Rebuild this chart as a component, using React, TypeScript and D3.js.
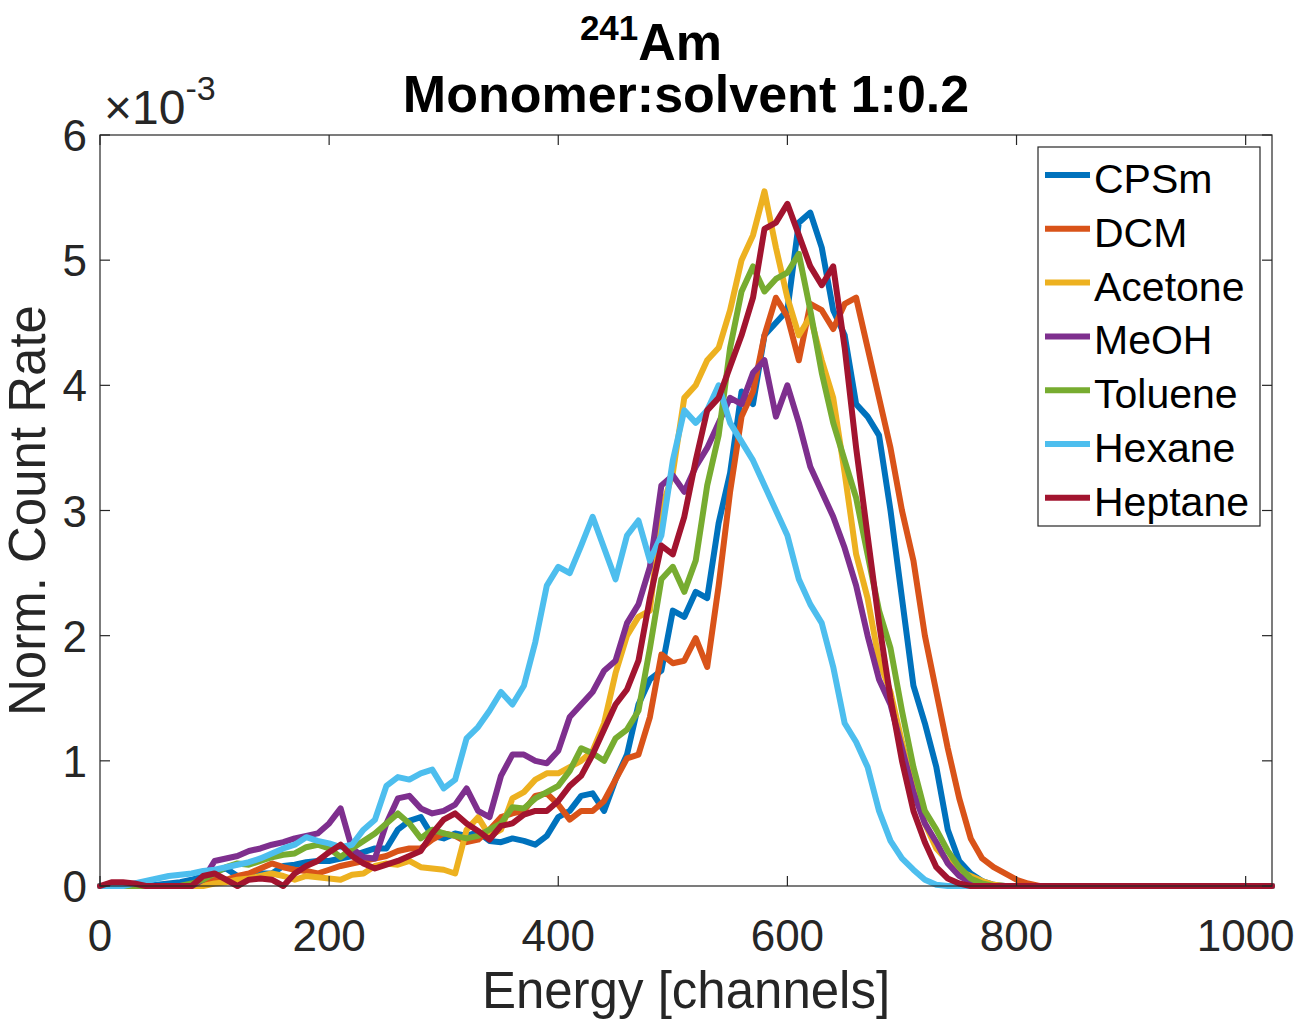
import React from "react";
import * as d3 from "d3";

const CHANNELS = [
  0, 10, 20, 30, 40, 50, 60, 70, 80, 90,
  100, 110, 120, 130, 140, 150, 160, 170, 180, 190,
  200, 210, 220, 230, 240, 250, 260, 270, 280, 290,
  300, 310, 320, 330, 340, 350, 360, 370, 380, 390,
  400, 410, 420, 430, 440, 450, 460, 470, 480, 490,
  500, 510, 520, 530, 540, 550, 560, 570, 580, 590,
  600, 610, 620, 630, 640, 650, 660, 670, 680, 690,
  700, 710, 720, 730, 740, 750, 760, 770, 780, 790,
  800, 810, 820, 1023,
];

// values in units of 1e-3
const CPSm = [
  0, 0, 0, 0, 0, 0.01, 0.02, 0.03, 0.05, 0.08,
  0.12, 0.14, 0.08, 0.07, 0.1, 0.1, 0.16, 0.17, 0.19, 0.2,
  0.2, 0.22, 0.24, 0.27, 0.3, 0.3, 0.45, 0.52, 0.55, 0.4,
  0.38, 0.42, 0.4, 0.43, 0.36, 0.35, 0.38, 0.36, 0.33, 0.4,
  0.55, 0.6, 0.72, 0.74, 0.6, 0.85, 1.05, 1.45, 1.65, 1.72,
  2.2, 2.15, 2.35, 2.3, 2.9, 3.3, 3.95, 3.85, 4.4, 4.5,
  4.6, 5.3, 5.38, 5.1, 4.6, 4.4, 3.85, 3.75, 3.6, 3.0,
  2.3, 1.6, 1.3, 0.95, 0.45, 0.2, 0.1, 0.04, 0.01, 0,
  0, 0, 0, 0,
];

const DCM = [
  0, 0, 0, 0, 0, 0, 0, 0, 0.01, 0.02,
  0.05, 0.05, 0.08, 0.1, 0.14, 0.18, 0.15, 0.13, 0.12, 0.1,
  0.13, 0.16, 0.18, 0.2, 0.22, 0.24, 0.28, 0.3, 0.3, 0.37,
  0.42, 0.4, 0.35, 0.37, 0.45, 0.55, 0.58, 0.6, 0.72, 0.74,
  0.65, 0.53, 0.6, 0.6, 0.68, 0.85, 1.02, 1.05, 1.35, 1.85,
  1.78, 1.8, 1.98, 1.75, 2.4, 3.15, 3.75, 3.95, 4.4, 4.7,
  4.55, 4.2, 4.65, 4.6, 4.45, 4.65, 4.7, 4.3, 3.9, 3.5,
  3.0, 2.6, 2.0, 1.55, 1.1, 0.7, 0.38, 0.22, 0.15, 0.1,
  0.05, 0.02, 0, 0,
];

const Acetone = [
  0, 0, 0, 0, 0, 0, 0, 0, 0, 0,
  0.02, 0.03, 0.05, 0.06, 0.08, 0.1, 0.08, 0.05, 0.08, 0.07,
  0.06, 0.05, 0.09, 0.1, 0.16, 0.18, 0.17, 0.2, 0.15, 0.14,
  0.13, 0.1, 0.45, 0.55, 0.4, 0.45, 0.7, 0.75, 0.85, 0.9,
  0.9, 0.95, 1.0, 1.08, 1.3, 1.7, 2.0, 2.15, 2.2, 3.0,
  3.3, 3.9, 4.0, 4.2, 4.3, 4.6, 5.0, 5.2, 5.55, 5.1,
  4.7, 4.4, 4.55, 4.2, 3.9, 3.3, 2.65, 2.3, 1.8, 1.55,
  1.15, 0.8, 0.5, 0.3, 0.2, 0.12, 0.08, 0.04, 0.01, 0,
  0, 0, 0, 0,
];

const MeOH = [
  0, 0, 0, 0, 0, 0, 0, 0, 0, 0.05,
  0.2, 0.22, 0.24, 0.28, 0.3, 0.33, 0.35, 0.38, 0.4, 0.42,
  0.5, 0.62, 0.3, 0.23, 0.22, 0.5, 0.7, 0.72, 0.62, 0.58,
  0.6, 0.65, 0.78, 0.6, 0.55, 0.88, 1.05, 1.05, 1.0, 0.98,
  1.08, 1.35, 1.45, 1.55, 1.72, 1.8, 2.1, 2.25, 2.55, 3.2,
  3.28, 3.15, 3.35, 3.5, 3.7, 3.9, 3.85, 4.1, 4.2, 3.75,
  4.0, 3.7, 3.35, 3.15, 2.95, 2.7, 2.4, 2.0, 1.65, 1.45,
  1.1, 0.75, 0.5, 0.35, 0.18, 0.08, 0.03, 0, 0, 0,
  0, 0, 0, 0,
];

const Toluene = [
  0, 0, 0, 0, 0, 0, 0, 0, 0.02, 0.05,
  0.1, 0.15, 0.18, 0.17, 0.2, 0.23, 0.25, 0.26, 0.31, 0.33,
  0.3, 0.23, 0.3, 0.36, 0.42, 0.5, 0.58, 0.5, 0.38, 0.45,
  0.42, 0.4, 0.38, 0.4, 0.45, 0.5, 0.63, 0.62, 0.7, 0.75,
  0.8, 0.92, 1.1, 1.06, 1.0, 1.18, 1.25, 1.4, 1.9, 2.45,
  2.55, 2.35, 2.6, 3.2, 3.6, 4.3, 4.75, 4.95, 4.75, 4.85,
  4.9, 5.05, 4.6, 4.1, 3.7, 3.4, 3.1, 2.65, 2.2, 1.9,
  1.4, 0.95, 0.6, 0.45, 0.28, 0.15, 0.06, 0.02, 0, 0,
  0, 0, 0, 0,
];

const Hexane = [
  0, 0, 0, 0.02, 0.04, 0.06, 0.08, 0.09, 0.1, 0.12,
  0.13, 0.15, 0.17, 0.19, 0.22, 0.26, 0.3, 0.33, 0.39, 0.36,
  0.34, 0.31, 0.33, 0.45, 0.53, 0.8, 0.87, 0.85, 0.9, 0.93,
  0.78, 0.85, 1.18, 1.27, 1.4, 1.55, 1.45, 1.6, 1.95, 2.4,
  2.55, 2.5, 2.72, 2.95, 2.7, 2.45, 2.8, 2.92, 2.6, 2.8,
  3.4, 3.8, 3.7, 3.8, 4.0, 3.7, 3.55, 3.4, 3.2, 3.0,
  2.8, 2.45, 2.25, 2.1, 1.75, 1.3, 1.15, 0.95, 0.6, 0.36,
  0.22, 0.13, 0.05, 0.01, 0, 0, 0, 0, 0, 0,
  0, 0, 0, 0,
];

const Heptane = [
  0, 0.03, 0.03, 0.02, 0, 0, 0, 0, 0, 0.08,
  0.1, 0.05, 0, 0.05, 0.06, 0.05, 0, 0.1, 0.16, 0.2,
  0.27, 0.33, 0.24, 0.18, 0.14, 0.17, 0.2, 0.24, 0.28, 0.42,
  0.53, 0.58, 0.5, 0.44, 0.37, 0.48, 0.5, 0.57, 0.6, 0.6,
  0.68, 0.8, 0.88, 1.05, 1.25, 1.45, 1.57, 1.8, 2.3, 2.72,
  2.65, 2.95, 3.4, 3.8, 3.9, 4.15, 4.4, 4.7, 5.25, 5.3,
  5.45, 5.2, 4.95, 4.8, 4.95, 4.3, 3.5, 2.8, 2.1, 1.5,
  1.0, 0.6, 0.35, 0.15, 0.06, 0.02, 0, 0, 0, 0,
  0, 0, 0, 0,
];

const SERIES_NAMES = ["CPSm", "DCM", "Acetone", "MeOH", "Toluene", "Hexane", "Heptane"];
const SERIES_VALUES = [CPSm, DCM, Acetone, MeOH, Toluene, Hexane, Heptane];
const SERIES_COLORS = ["#0072BD", "#D95319", "#EDB120", "#7E2F8E", "#77AC30", "#4DBEEE", "#A2142F"];

const X_TICKS = [0, 200, 400, 600, 800, 1000];
const Y_TICKS = [0, 1, 2, 3, 4, 5, 6];

const FONT = "'Liberation Sans', Arial, Helvetica, sans-serif";
const AX = "#262626";

export default function App() {
  const left = 100, right = 1272, top = 135, bottom = 886;
  const x = d3.scaleLinear().domain([0, 1023]).range([left, right]);
  const y = d3.scaleLinear().domain([0, 6]).range([bottom, top]);
  const line = (vals: number[]) =>
    d3.line<number>().x((_, i) => x(CHANNELS[i])).y((d) => y(d))(vals) || "";
  const tick = 10;

  const legendX = 1038, legendY = 147, legendW = 222, legendH = 379;
  const rowY = (i: number) => 175 + i * 53.8;

  return (
    <svg width={1301} height={1024} style={{ position: "absolute", left: 0, top: 0, background: "#fff" }} fontFamily={FONT}>
      <rect x={0} y={0} width={1301} height={1024} fill="#fff" />
      {SERIES_VALUES.map((vals, k) => (
        <path key={SERIES_NAMES[k]} d={line(vals)} fill="none" stroke={SERIES_COLORS[k]} strokeWidth={6} strokeLinejoin="round" strokeLinecap="round" />
      ))}
      <rect x={left} y={top} width={right - left} height={bottom - top} fill="none" stroke={AX} strokeWidth={1.2} />
      {X_TICKS.map((t) => (
        <g key={"x" + t}>
          <line x1={x(t)} x2={x(t)} y1={bottom} y2={bottom - tick} stroke={AX} strokeWidth={1.2} />
          <line x1={x(t)} x2={x(t)} y1={top} y2={top + tick} stroke={AX} strokeWidth={1.2} />
          <text x={x(t)} y={951} textAnchor="middle" fontSize={44} fill={AX}>{t}</text>
        </g>
      ))}
      {Y_TICKS.map((t) => (
        <g key={"y" + t}>
          <line x1={left} x2={left + tick} y1={y(t)} y2={y(t)} stroke={AX} strokeWidth={1.2} />
          <line x1={right} x2={right - tick} y1={y(t)} y2={y(t)} stroke={AX} strokeWidth={1.2} />
          <text x={87} y={y(t) + 16} textAnchor="end" fontSize={44} fill={AX}>{t}</text>
        </g>
      ))}
      <text x={104} y={124} fontSize={48} fill={AX}>
        <tspan>×10</tspan>
        <tspan fontSize={34} dy={-24}>-3</tspan>
      </text>
      <text x={686} y={1008} textAnchor="middle" fontSize={51} fill={AX}>Energy [channels]</text>
      <text transform={`translate(45, ${(top + bottom) / 2}) rotate(-90)`} x={0} y={0} textAnchor="middle" fontSize={51} fill={AX}>Norm. Count Rate</text>
      <text x={651} y={60} textAnchor="middle" fontSize={52} fontWeight="bold" fill="#000">
        <tspan fontSize={35} dy={-20}>241</tspan>
        <tspan dy={20}>Am</tspan>
      </text>
      <text x={686} y={112} textAnchor="middle" fontSize={52} fontWeight="bold" fill="#000">Monomer:solvent 1:0.2</text>
      <rect x={legendX} y={legendY} width={legendW} height={legendH} fill="#fff" stroke={AX} strokeWidth={1.2} />
      {SERIES_NAMES.map((n, i) => (
        <g key={"lg" + n}>
          <line x1={1045} x2={1090} y1={rowY(i)} y2={rowY(i)} stroke={SERIES_COLORS[i]} strokeWidth={6} />
          <text x={1094} y={rowY(i) + 18} fontSize={41} fill="#000">{n}</text>
        </g>
      ))}
    </svg>
  );
}
